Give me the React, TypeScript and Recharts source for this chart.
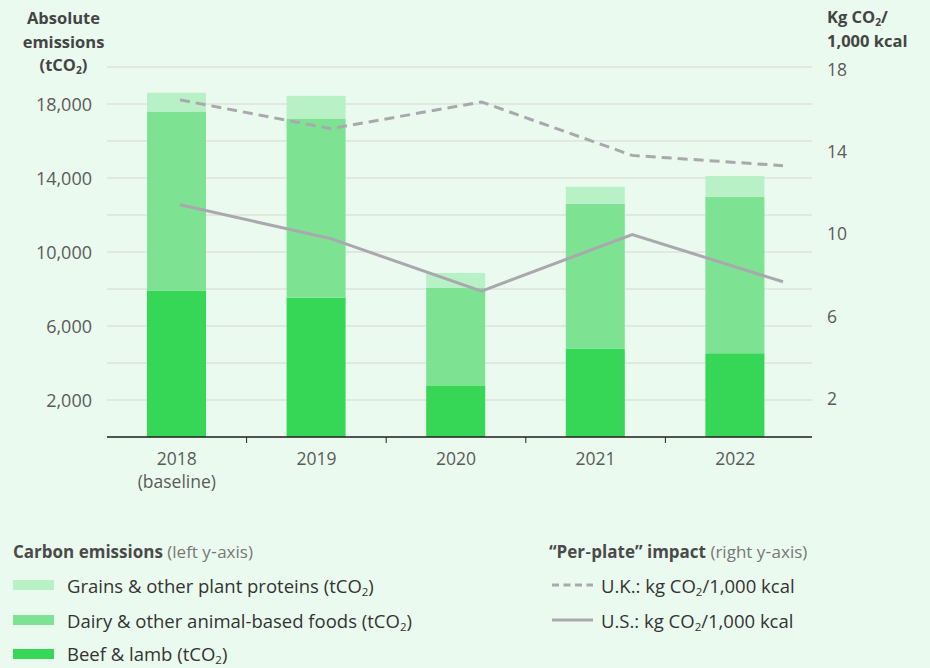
import React from 'react';
import { ComposedChart, Bar, Line, XAxis, YAxis, CartesianGrid } from 'recharts';

const YEARS = ['2018', '2019', '2020', '2021', '2022'];
const YEAR_NOTES = ['(baseline)', '', '', '', ''];
const BEEF = [7920, 7530, 2760, 4790, 4530];
const DAIRY = [9680, 9690, 5300, 7820, 8450];
const GRAINS = [1010, 1230, 810, 920, 1130];
const UK_PER_PLATE = [16.4, 15.0, 16.3, 13.7, 13.2];
const US_PER_PLATE = [11.3, 9.65, 7.1, 9.85, 7.55];

const LEFT_TICKS = [0, 2000, 4000, 6000, 8000, 10000, 12000, 14000, 16000, 18000, 20000];
const LEFT_LABELS = [2000, 6000, 10000, 14000, 18000];
const RIGHT_TICKS = [2, 6, 10, 14, 18];

const BG = '#EBFAEE';
const BEEF_COLOR = '#36D657';
const DAIRY_COLOR = '#7DE392';
const GRAINS_COLOR = '#B8F1C5';
const LINE_COLOR = '#A9A8AE';
const FONT = '"Open Sans", Lato, sans-serif';
const TICK_COLOR = '#5A5A5A';
const BAND = 139.6;

const data = YEARS.map((year, i) => ({
  year,
  beef: BEEF[i],
  dairy: DAIRY[i],
  grains: GRAINS[i],
  uk: UK_PER_PLATE[i],
  us: US_PER_PLATE[i],
}));

const fmt = (v: number) => v.toLocaleString('en-US');

function YearTick(props: any) {
  const { x, y, payload, index } = props;
  const note = YEAR_NOTES[index];
  return (
    <g>
      {index < YEARS.length - 1 && (
        <line x1={x + BAND / 2} x2={x + BAND / 2} y1={y} y2={y + 6} stroke="#222" strokeWidth={1} />
      )}
      <text x={x} y={y + 21} textAnchor="middle" dominantBaseline="central" fill={TICK_COLOR} fontSize={17.5} fontFamily={FONT}>
        {payload.value}
      </text>
      {note && (
        <text x={x} y={y + 44} textAnchor="middle" dominantBaseline="central" fill={TICK_COLOR} fontSize={17.5} fontFamily={FONT}>
          {note}
        </text>
      )}
    </g>
  );
}

function LeftTick(props: any) {
  const { x, y, payload } = props;
  if (!LEFT_LABELS.includes(payload.value)) return null;
  return (
    <text x={x} y={y} textAnchor="end" dominantBaseline="central" fill={TICK_COLOR} fontSize={18} fontFamily={FONT}>
      {fmt(payload.value)}
    </text>
  );
}

function RightTick(props: any) {
  const { x, y, payload } = props;
  return (
    <text x={x} y={y + 2} textAnchor="start" dominantBaseline="central" fill={TICK_COLOR} fontSize={17.5} fontFamily={FONT}>
      {payload.value}
    </text>
  );
}

const Sub = () => (
  <span style={{ fontSize: '0.62em', position: 'relative', top: '0.3em' }}>2</span>
);

export default function App() {
  const titleStyle: React.CSSProperties = {
    position: 'absolute',
    fontWeight: 700,
    fontSize: 16.5,
    lineHeight: '23.5px',
    color: '#444',
    whiteSpace: 'nowrap',
  };
  const legendTitle: React.CSSProperties = {
    position: 'absolute',
    top: 540,
    fontSize: 17,
    color: '#777',
    lineHeight: '24px',
    whiteSpace: 'nowrap',
  };
  const legendText: React.CSSProperties = {
    fontSize: 18.5,
    color: '#333',
    position: 'absolute',
    lineHeight: '24px',
    whiteSpace: 'nowrap',
  };
  const swatch = (color: string, top: number) => (
    <div style={{ position: 'absolute', left: 13, top, width: 41, height: 10, background: color }} />
  );

  return (
    <div style={{ position: 'relative', width: 930, height: 668, background: BG, fontFamily: FONT, overflow: 'hidden' }}>
      <style>{`body{margin:0}`}</style>

      <div style={{ ...titleStyle, left: 4, top: 6, width: 119, textAlign: 'center' }}>
        Absolute
        <br />
        emissions
        <br />
        (tCO<Sub />)
      </div>
      <div style={{ ...titleStyle, left: 827, top: 6, lineHeight: '22px' }}>
        Kg CO<Sub />/
        <br />
        1,000 kcal
      </div>

      <div style={{ position: 'absolute', left: 0, top: 0 }}>
        <ComposedChart
          width={930}
          height={500}
          data={data}
          margin={{ top: 67, right: 18, left: 0, bottom: 13 }}
        >
          <CartesianGrid yAxisId="left" xAxisId="bar" vertical={false} stroke="#DCE2DD" strokeWidth={1.5} />
          <XAxis
            xAxisId="bar"
            dataKey="year"
            height={50}
            padding={{ left: 0, right: 7 }}
            axisLine={{ stroke: '#222', strokeWidth: 1.5 }}
            tickLine={false}
            tickSize={0}
            tickMargin={0}
            tick={<YearTick />}
            interval={0}
          />
          <XAxis xAxisId="line" dataKey="year" scale="point" hide padding={{ left: 73, right: 29 }} />
          <YAxis
            yAxisId="left"
            width={107}
            domain={[0, 20000]}
            ticks={LEFT_TICKS}
            interval={0}
            axisLine={false}
            tickLine={false}
            tickSize={0}
            tickMargin={15}
            tick={<LeftTick />}
          />
          <YAxis
            yAxisId="right"
            orientation="right"
            width={100}
            domain={[0, 18]}
            ticks={RIGHT_TICKS}
            interval={0}
            axisLine={false}
            tickLine={false}
            tickSize={0}
            tickMargin={15}
            tick={<RightTick />}
          />
          <Bar xAxisId="bar" yAxisId="left" dataKey="beef" stackId="a" fill={BEEF_COLOR} barSize={59} isAnimationActive={false} />
          <Bar xAxisId="bar" yAxisId="left" dataKey="dairy" stackId="a" fill={DAIRY_COLOR} barSize={59} isAnimationActive={false} />
          <Bar xAxisId="bar" yAxisId="left" dataKey="grains" stackId="a" fill={GRAINS_COLOR} barSize={59} isAnimationActive={false} />
          <Line
            xAxisId="line"
            yAxisId="right"
            type="linear"
            dataKey="uk"
            stroke={LINE_COLOR}
            strokeWidth={3}
            strokeDasharray="10 6"
            dot={false}
            isAnimationActive={false}
          />
          <Line
            xAxisId="line"
            yAxisId="right"
            type="linear"
            dataKey="us"
            stroke={LINE_COLOR}
            strokeWidth={3}
            dot={false}
            isAnimationActive={false}
          />
        </ComposedChart>
      </div>

      {/* legend, left column */}
      <div style={{ ...legendTitle, left: 13 }}>
        <b style={{ color: '#4A4A4A' }}>Carbon emissions</b> (left y‑axis)
      </div>
      {swatch(GRAINS_COLOR, 580)}
      <div style={{ ...legendText, left: 67, top: 574 }}>
        Grains &amp; other plant proteins (tCO<Sub />)
      </div>
      {swatch(DAIRY_COLOR, 615)}
      <div style={{ ...legendText, left: 67, top: 609 }}>
        Dairy &amp; other animal-based foods (tCO<Sub />)
      </div>
      {swatch(BEEF_COLOR, 649)}
      <div style={{ ...legendText, left: 67, top: 642 }}>
        Beef &amp; lamb (tCO<Sub />)
      </div>

      {/* legend, right column */}
      <div style={{ ...legendTitle, left: 549 }}>
        <b style={{ color: '#4A4A4A' }}>“Per‑plate” impact</b> (right y‑axis)
      </div>
      <svg style={{ position: 'absolute', left: 551, top: 579 }} width={44} height={50}>
        <line x1={1} x2={42} y1={6} y2={6} stroke={LINE_COLOR} strokeWidth={3} strokeDasharray="7 4.5" />
        <line x1={1} x2={42} y1={41} y2={41} stroke={LINE_COLOR} strokeWidth={3} />
      </svg>
      <div style={{ ...legendText, left: 601, top: 574 }}>
        U.K.: kg CO<Sub />/1,000 kcal
      </div>
      <div style={{ ...legendText, left: 601, top: 609 }}>
        U.S.: kg CO<Sub />/1,000 kcal
      </div>
    </div>
  );
}
